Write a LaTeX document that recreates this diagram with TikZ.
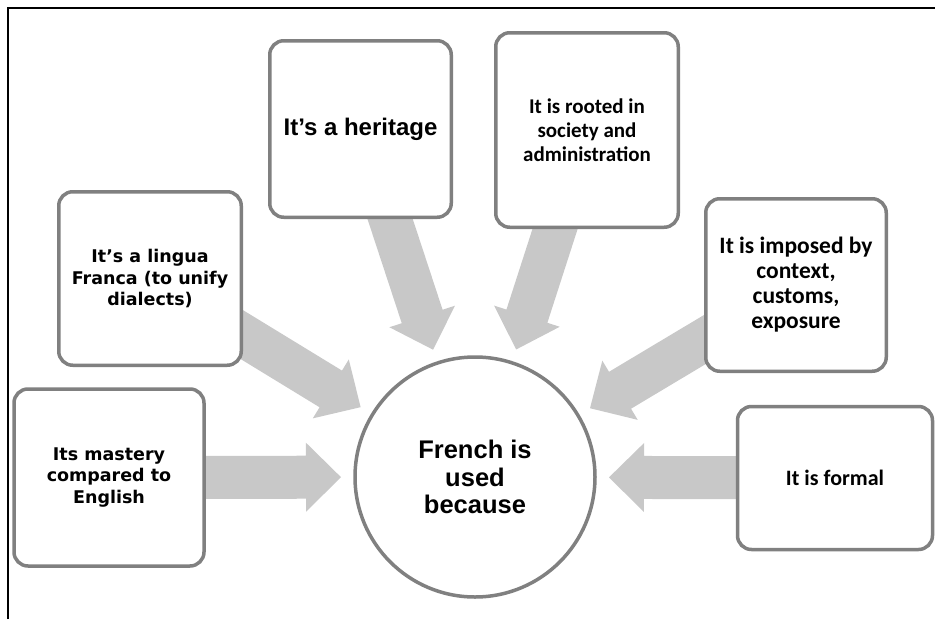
\documentclass[tikz,border=0pt]{standalone}
\usepackage{fontspec}
\setmainfont{Liberation Sans}
\newfontfamily\widefont{DejaVu Sans}
\newfontfamily\calfont{Carlito}
\usetikzlibrary{calc,backgrounds}
\definecolor{boxgray}{HTML}{808080}
\definecolor{arrowgray}{HTML}{C8C8C8}
\tikzstyle{reason}=[rectangle, rounded corners=14pt, draw=boxgray, line width=3.5pt, fill=white, align=center, inner sep=0pt]
\tikzstyle{hub}=[circle, draw=boxgray, line width=3.5pt, fill=white, align=center, minimum size=240pt, inner sep=0pt]
% wide grey block arrow from node #1 towards node #2
\newcommand{\bigarrow}[2]{%
  \fill[arrowgray] ($(#1)!21.5pt!90:(#2)$)
    -- ($(#2)!169pt!(#1)!21.5pt!90:(#2)$)
    -- ($(#2)!169pt!(#1)!34.5pt!90:(#2)$)
    -- ($(#2)!134pt!(#1)$)
    -- ($(#2)!169pt!(#1)!34.5pt!-90:(#2)$)
    -- ($(#2)!169pt!(#1)!21.5pt!-90:(#2)$)
    -- ($(#1)!21.5pt!-90:(#2)$) -- cycle;}

\begin{document}
\begin{tikzpicture}[x=1pt,y=-1pt]
      \useasboundingbox (0,0) rectangle (935,619);
      \draw[line width=2.5pt] (8,619) -- (8,8) -- (935,8);

      \node[hub, font=\fontsize{25.5}{27.5}\selectfont\bfseries] (c0) at (475,477) {French is\\used\\because};

      \node[reason, minimum width=190pt, minimum height=177pt, font=\fontsize{17.5}{21.5}\selectfont\widefont\bfseries] (r1) at (109,477.5) {Its mastery\\compared to\\English};
      \node[reason, minimum width=182.5pt, minimum height=173.5pt, font=\fontsize{17.5}{21.5}\selectfont\widefont\bfseries] (r2) at (150,278.5) {It’s a lingua\\Franca (to unify\\dialects)};
      \node[reason, minimum width=181.5pt, minimum height=176.5pt, font=\fontsize{24}{27}\selectfont\bfseries] (r3) at (360.5,129) {It’s a heritage};
      \node[reason, minimum width=182.5pt, minimum height=194.5pt, font=\fontsize{21}{24}\selectfont\calfont\bfseries] (r4) at (587,130) {It is rooted in\\society and\\administration};
      \node[reason, minimum width=180.5pt, minimum height=172.5pt, font=\fontsize{23.5}{25}\selectfont\calfont\bfseries] (r5) at (796,285) {It is imposed by\\context,\\customs,\\exposure};
      \node[reason, minimum width=195pt, minimum height=143pt, font=\fontsize{22}{24}\selectfont\calfont\bfseries] (r6) at (835,478) {It is formal};

      \begin{pgfonlayer}{background}
        \bigarrow{r1}{c0}
        \bigarrow{r2}{c0}
        \bigarrow{r3}{c0}
        \bigarrow{r4}{c0}
        \bigarrow{r5}{c0}
        \bigarrow{r6}{c0}
      \end{pgfonlayer}
\end{tikzpicture}
\end{document}
